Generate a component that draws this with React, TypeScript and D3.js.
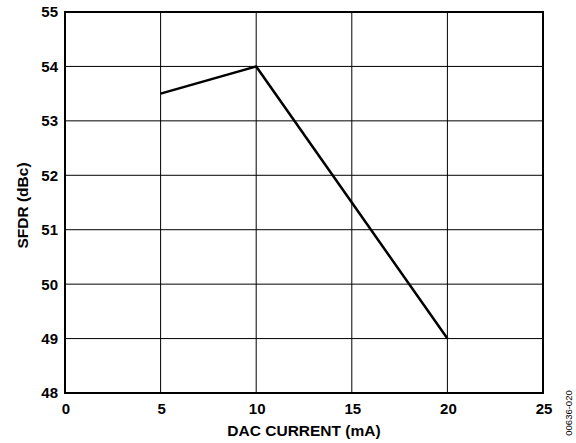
import * as d3 from 'd3';

// DAC current (mA) vs SFDR (dBc)
const current = [5, 10, 15, 20];
const sfdr = [53.5, 54, 51.5, 49];
const xTicks = [0, 5, 10, 15, 20, 25];
const yTicks = [48, 49, 50, 51, 52, 53, 54, 55];

const width = 576;
const height = 443;
const margin = { top: 12, right: 33, bottom: 50, left: 65 };
const font = 'Arial, "Liberation Sans", Helvetica, sans-serif';

export default function App() {
  const x = d3
    .scaleLinear()
    .domain([0, 25])
    .range([margin.left, width - margin.right]);
  const y = d3
    .scaleLinear()
    .domain([48, 55])
    .range([height - margin.bottom, margin.top]);

  const line = d3
    .line<number>()
    .x((d, i) => x(current[i]))
    .y((d) => y(d));

  const plotW = width - margin.left - margin.right;
  const plotH = height - margin.top - margin.bottom;

  return (
    <svg
      width={width}
      height={height}
      style={{ position: 'absolute', left: 0, top: 0, background: '#fff' }}
      fontFamily={font}
    >
      {xTicks.slice(1, -1).map((t) => (
        <line
          key={'gx' + t}
          x1={x(t)}
          x2={x(t)}
          y1={margin.top}
          y2={height - margin.bottom}
          stroke="#000"
          strokeWidth={1}
        />
      ))}
      {yTicks.slice(1, -1).map((t) => (
        <line
          key={'gy' + t}
          x1={margin.left}
          x2={width - margin.right}
          y1={y(t)}
          y2={y(t)}
          stroke="#000"
          strokeWidth={1}
        />
      ))}
      <rect
        x={margin.left}
        y={margin.top}
        width={plotW}
        height={plotH}
        fill="none"
        stroke="#000"
        strokeWidth={2}
      />
      <path d={line(sfdr) || ''} fill="none" stroke="#000" strokeWidth={2.5} />
      {yTicks.map((t) => (
        <text
          key={'ty' + t}
          x={margin.left - 7}
          y={y(t)}
          dy="0.36em"
          textAnchor="end"
          fontSize={15}
          fontWeight="bold"
        >
          {t}
        </text>
      ))}
      {xTicks.map((t) => (
        <text
          key={'tx' + t}
          x={x(t) + 1}
          y={height - margin.bottom + 21}
          textAnchor="middle"
          fontSize={15}
          fontWeight="bold"
        >
          {t}
        </text>
      ))}
      <text
        x={margin.left + plotW / 2}
        y={436}
        textAnchor="middle"
        fontSize={15.5}
        fontWeight="bold"
      >
        DAC CURRENT (mA)
      </text>
      <text
        transform={`translate(28,${margin.top + plotH / 2 + 3}) rotate(-90)`}
        textAnchor="middle"
        fontSize={15.5}
        fontWeight="bold"
      >
        SFDR (dBc)
      </text>
      <text
        transform="translate(572,413) rotate(-90)"
        textAnchor="middle"
        fontSize={9.5}
        fill="#000"
      >
        00636-020
      </text>
    </svg>
  );
}
